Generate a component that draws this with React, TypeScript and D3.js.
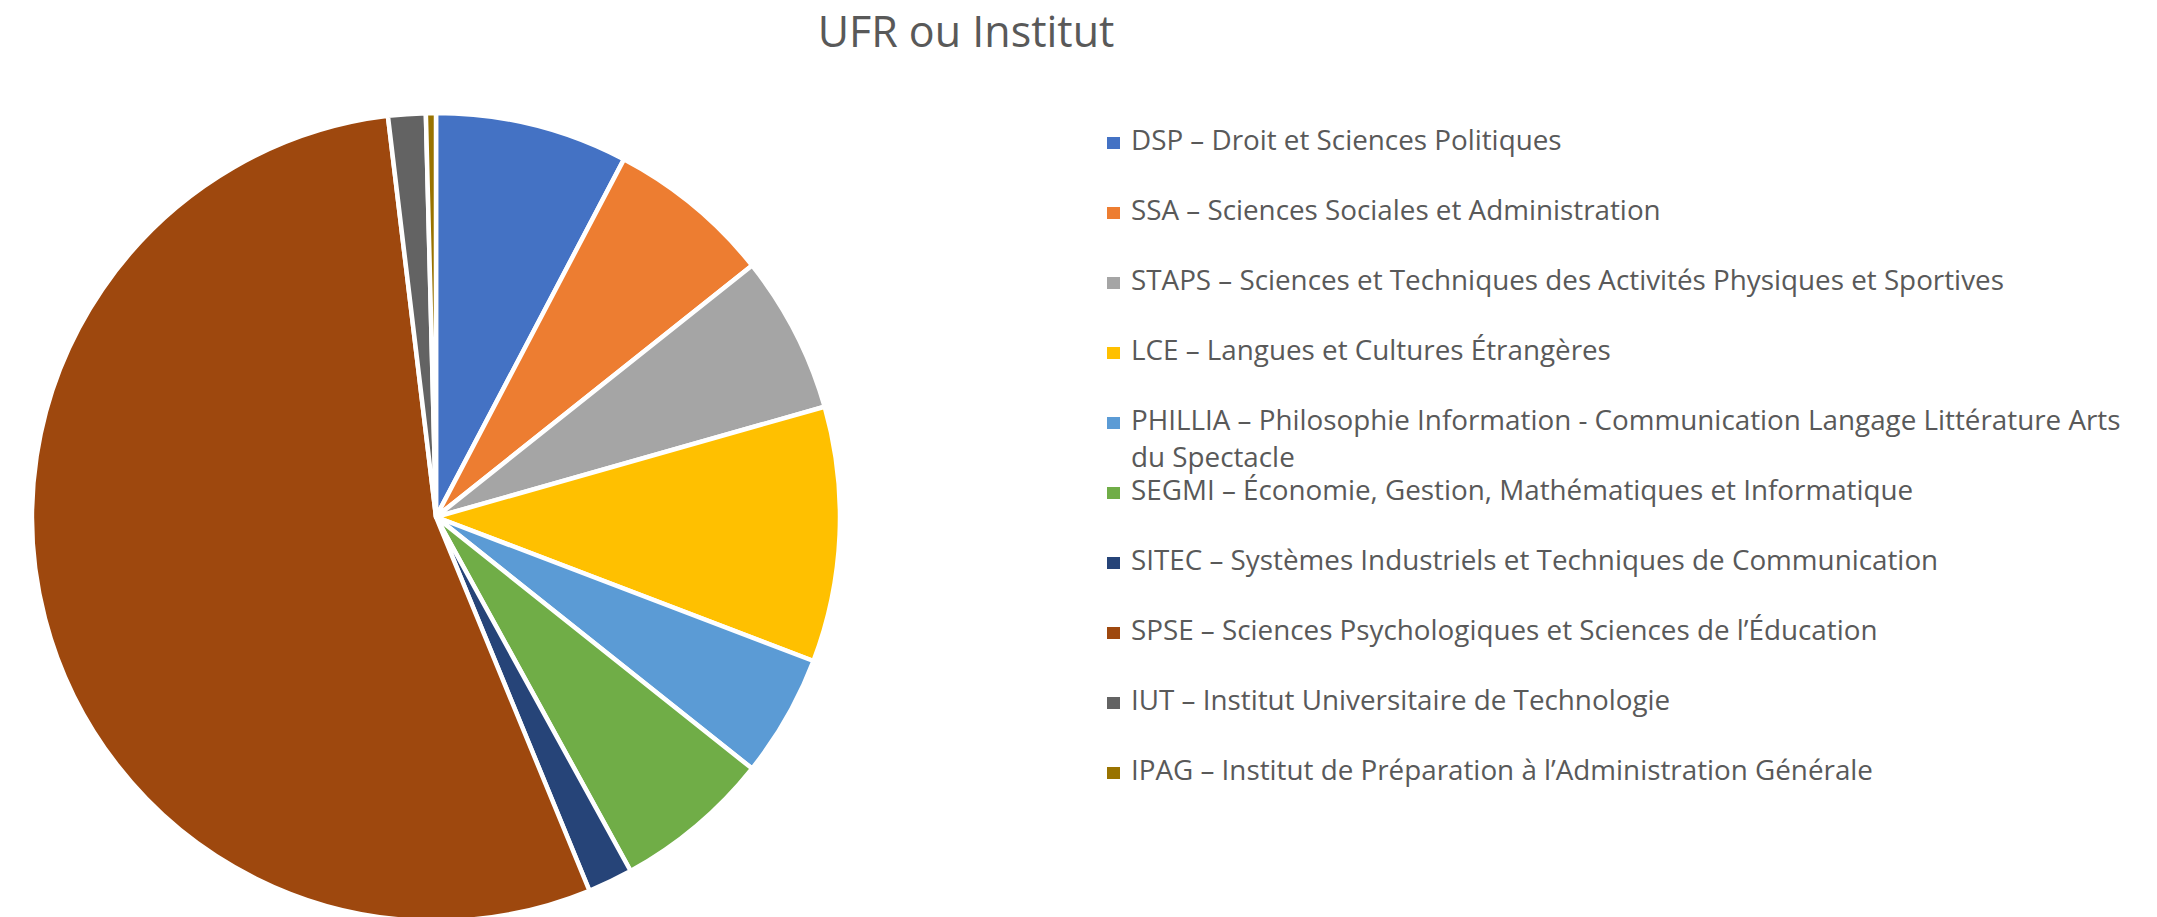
import React from "react";
import * as d3 from "d3";

const title = "UFR ou Institut";

const categories: string[] = [
  "DSP – Droit et Sciences Politiques",
  "SSA – Sciences Sociales et Administration",
  "STAPS – Sciences et Techniques des Activités Physiques et Sportives",
  "LCE – Langues et Cultures Étrangères",
  "PHILLIA – Philosophie Information - Communication Langage Littérature Arts|du Spectacle",
  "SEGMI – Économie, Gestion, Mathématiques et Informatique",
  "SITEC – Systèmes Industriels et Techniques de Communication",
  "SPSE – Sciences Psychologiques et Sciences de l’Éducation",
  "IUT – Institut Universitaire de Technologie",
  "IPAG – Institut de Préparation à l’Administration Générale",
];

const values: number[] = [7.7, 6.6, 6.3, 10.2, 4.9, 6.3, 1.8, 54.3, 1.5, 0.4];

const colors: string[] = [
  "#4472C4",
  "#ED7D31",
  "#A5A5A5",
  "#FFC000",
  "#5B9BD5",
  "#70AD47",
  "#264478",
  "#9E480E",
  "#636363",
  "#997300",
];

export default function App() {
  const W = 2157;
  const H = 917;
  const cx = 436;
  const cy = 517;
  const R = 404;

  const pie = d3
    .pie<number>()
    .sort(null)
    .value((d) => d)
    .startAngle(0)
    .endAngle(2 * Math.PI);
  const arcs = pie(values);
  const arc = d3.arc<d3.PieArcDatum<number>>().innerRadius(0).outerRadius(R);

  const legendX = 1107;
  const textX = 1131;
  const firstBaseline = 150;
  const rowStep = 70;
  const lineH = 37;
  const fontFamily = "'Open Sans', sans-serif";
  const textColor = "#595959";

  return (
    <svg
      width={W}
      height={H}
      style={{ position: "absolute", left: 0, top: 0, background: "#fff" }}
    >
      <rect x={0} y={0} width={W} height={H} fill="#fff" />
      <text
        x={966}
        y={47}
        textAnchor="middle"
        fontFamily={fontFamily}
        fontSize={43}
        fill={textColor}
      >
        {title}
      </text>
      <g transform={`translate(${cx},${cy})`}>
        {arcs.map((a, i) => (
          <path
            key={i}
            d={arc(a) || ""}
            fill={colors[i]}
            stroke="#fff"
            strokeWidth={4.5}
            strokeLinejoin="round"
          />
        ))}
      </g>
      <g>
        {categories.map((c, i) => {
          const lines = c.split("|");
          const y = firstBaseline + i * rowStep;
          return (
            <g key={i}>
              <rect
                x={legendX}
                y={y - 13}
                width={13}
                height={12}
                fill={colors[i]}
              />
              {lines.map((l, j) => (
                <text
                  key={j}
                  x={textX}
                  y={y + j * lineH}
                  fontFamily={fontFamily}
                  fontSize={27.8}
                  fill={textColor}
                >
                  {l}
                </text>
              ))}
            </g>
          );
        })}
      </g>
    </svg>
  );
}
